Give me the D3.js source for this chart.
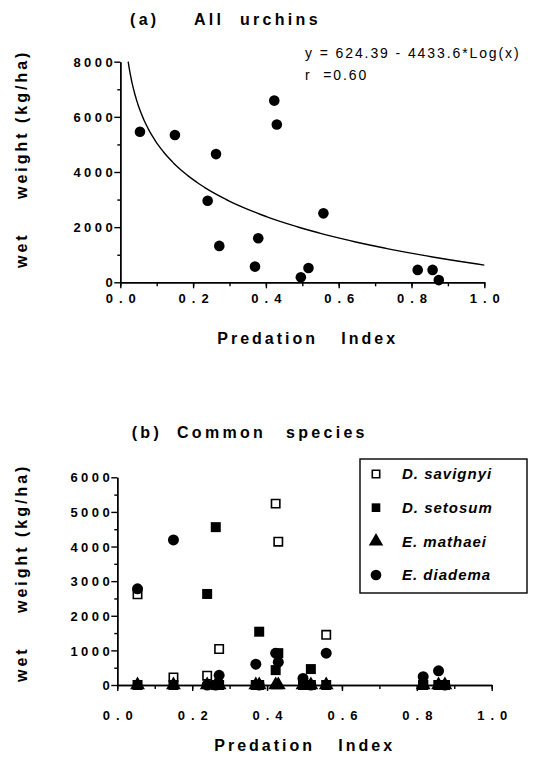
<!DOCTYPE html>
<html>
<head>
<meta charset="utf-8">
<script src="https://cdn.jsdelivr.net/npm/d3@7"></script>
<style>
  body { margin: 0; background: #fff; }
  svg text { font-family: "Liberation Sans", Arial, sans-serif; fill: #000; }
</style>
</head>
<body>
<div id="chart"></div>
<script>
// predation index of each site (same sites in both panels)
const predIndex = [0.054, 0.150, 0.240, 0.263, 0.272, 0.370, 0.379, 0.423, 0.430, 0.496, 0.517, 0.558, 0.817, 0.858, 0.875];
// (a) all urchins, wet weight kg/ha
const allUrchins = [5460, 5340, 2960, 4650, 1320, 570, 1600, 6590, 5720, 180, 520, 2500, 450, 450, 80];
// (b) common species, wet weight kg/ha
const savignyi = [2620, 220, 270, 0, 1040, 0, 0, 5240, 4140, 0, 0, 1450, 0, 0, 0];
const setosum  = [0, 0, 2630, 4560, 0, 0, 1540, 430, 920, 0, 460, 0, 0, 0, 0];
const mathaei  = [0, 0, 0, 0, 0, 0, 0, 0, 0, 0, 0, 0, 0, 0, 0];
const diadema  = [2780, 4190, 0, 0, 280, 600, 0, 920, 660, 190, 0, 920, 240, 410, 0];
const speciesNames = ["D. savignyi", "D. setosum", "E. mathaei", "E. diadema"];
// log fit for panel (a)
const fitA = 624.39, fitB = 4433.6;
const xTicks = [0, 0.2, 0.4, 0.6, 0.8, 1.0];
const xMinor = [0, 0.1, 0.2, 0.3, 0.4, 0.5, 0.6, 0.7, 0.8, 0.9, 1.0];
const yTicksA = [0, 2000, 4000, 6000, 8000];
const yMinorA = [1000, 3000, 5000, 7000];
const yTicksB = [0, 1000, 2000, 3000, 4000, 5000, 6000];
const yMinorB = [500, 1500, 2500, 3500, 4500, 5500];

const W = 533, H = 757;
const svg = d3.select("#chart").append("svg")
    .attr("width", W).attr("height", H);

// draws both axes + labels for one panel
function drawAxes(x, y, yMajor, yMinor, labelTop, tickOff, labOff) {
    const x0 = x.range()[0], y0 = y.range()[0];
    const g = svg.append("g");

    // minor ticks
    g.append("g").attr("transform", `translate(0,${y0})`)
        .call(d3.axisBottom(x).tickValues(xMinor).tickSize(4).tickSizeOuter(0).tickFormat(""));
    g.append("g").attr("transform", `translate(${x0},0)`)
        .call(d3.axisLeft(y).tickValues(yMinor).tickSize(3).tickSizeOuter(0).tickFormat(""));

    // major ticks with labels
    const xa = g.append("g").attr("transform", `translate(0,${y0})`)
        .call(d3.axisBottom(x).tickValues(xTicks).tickSize(6).tickSizeOuter(0).tickFormat(d3.format(".1f")));
    xa.selectAll("text")
        .attr("y", tickOff).attr("dy", 0).attr("dx", 3)
        .style("font-size", "13px").style("font-weight", "bold").style("letter-spacing", "6px");

    const ya = g.append("g").attr("transform", `translate(${x0},0)`)
        .call(d3.axisLeft(y).tickValues(yMajor).tickSize(6).tickSizeOuter(0).tickFormat(d3.format("d")));
    ya.selectAll("text")
        .attr("x", -4).attr("dy", "0.36em")
        .style("font-size", "13px").style("font-weight", "bold").style("letter-spacing", "3.5px");

    g.selectAll(".domain, .tick line").attr("stroke", "#000").attr("stroke-width", 1.4);

    // x label
    const lx = svg.append("text")
        .attr("y", y0 + labOff)
        .style("font-size", "16px").style("font-weight", "bold").style("letter-spacing", "3px");
    lx.append("tspan").attr("x", x0 + 97).text("Predation");
    lx.append("tspan").attr("x", x0 + 221).text("Index");

    // y label, rotated
    const words = [["wet", 0], ["weight", 69], ["(kg/ha)", 145]];
    words.forEach(([w, off]) => {
        svg.append("text")
            .attr("transform", `translate(27,${labelTop - off}) rotate(-90)`)
            .style("font-size", "16px").style("font-weight", "bold").style("letter-spacing", "3px")
            .text(w);
    });
}

function title(xs, words, baseline) {
    const t = svg.append("text").attr("y", baseline)
        .style("font-size", "16px").style("font-weight", "bold").style("letter-spacing", "3.3px");
    words.forEach((w, i) => t.append("tspan").attr("x", xs[i]).text(w));
}

// ---------- panel (a)
const xA = d3.scaleLinear().domain([0, 1]).range([120.3, 484.3]);
const yA = d3.scaleLinear().domain([0, 8000]).range([282.3, 61.7]);

title([130, 194, 240], ["(a)", "All", "urchins"], 25);
drawAxes(xA, yA, yTicksA, yMinorA, 268, 21, 62);

const xStart = Math.pow(10, (fitA - 8000) / fitB);
const curvePts = d3.range(0, 201).map(i => {
    const xv = xStart * Math.pow(1 / xStart, i / 200);
    return [xv, fitA - fitB * Math.log10(xv)];
});
svg.append("path")
    .datum(curvePts)
    .attr("fill", "none").attr("stroke", "#000").attr("stroke-width", 1.4)
    .attr("d", d3.line().x(d => xA(d[0])).y(d => yA(d[1])));

svg.append("g").selectAll("circle")
    .data(predIndex.map((p, i) => [p, allUrchins[i]]))
    .join("circle")
    .attr("cx", d => xA(d[0])).attr("cy", d => yA(d[1]))
    .attr("r", 5.3).attr("fill", "#000");

const eq = svg.append("g").style("font-size", "14px").style("letter-spacing", "1.9px");
eq.append("text").attr("x", 305).attr("y", 58).attr("xml:space", "preserve").text("y = 624.39 - 4433.6*Log(x)");
eq.append("text").attr("x", 305).attr("y", 80).attr("xml:space", "preserve").text("r  =0.60");

// ---------- panel (b)
const xB = d3.scaleLinear().domain([0, 1]).range([117.3, 491.7]);
const yB = d3.scaleLinear().domain([0, 6000]).range([685, 477.3]);

title([131.7, 177, 286], ["(b)", "Common", "species"], 438);
drawAxes(xB, yB, yTicksB, yMinorB, 682, 35, 66);

const sym = [
    { type: d3.symbolSquare, size: 70, fill: "none", stroke: "#000" },
    { type: d3.symbolSquare, size: 100, fill: "#000", stroke: "none" },
    { type: d3.symbolTriangle, size: 95, fill: "#000", stroke: "none" },
    { type: d3.symbolCircle, size: 95, fill: "#000", stroke: "none" }
];
const seriesB = [savignyi, setosum, mathaei, diadema];
const drawOrder = [3, 2, 1, 0];

drawOrder.forEach(k => {
    const s = sym[k];
    svg.append("g").selectAll("path")
        .data(predIndex.map((p, i) => [p, seriesB[k][i]]))
        .join("path")
        .attr("transform", d => `translate(${xB(d[0])},${yB(d[1])})`)
        .attr("d", d3.symbol(s.type, s.size))
        .attr("fill", s.fill).attr("stroke", s.stroke).attr("stroke-width", 1.6);
});

// legend
const leg = svg.append("g");
leg.append("rect").attr("x", 360).attr("y", 459).attr("width", 167).attr("height", 134)
    .attr("fill", "#fff").attr("stroke", "#000").attr("stroke-width", 1.4);
const legY = d3.scalePoint().domain(speciesNames).range([474, 575]);
speciesNames.forEach((name, k) => {
    const s = sym[k];
    leg.append("path")
        .attr("transform", `translate(376,${legY(name)})`)
        .attr("d", d3.symbol(s.type, k === 0 ? 55 : k === 1 ? 75 : 90))
        .attr("fill", s.fill).attr("stroke", s.stroke).attr("stroke-width", 1.6);
    leg.append("text")
        .attr("x", 402).attr("y", legY(name)).attr("dy", "0.36em")
        .style("font-size", "15px").style("font-weight", "bold").style("font-style", "italic")
        .style("letter-spacing", "1px")
        .text(name);
});
</script>
</body>
</html>
